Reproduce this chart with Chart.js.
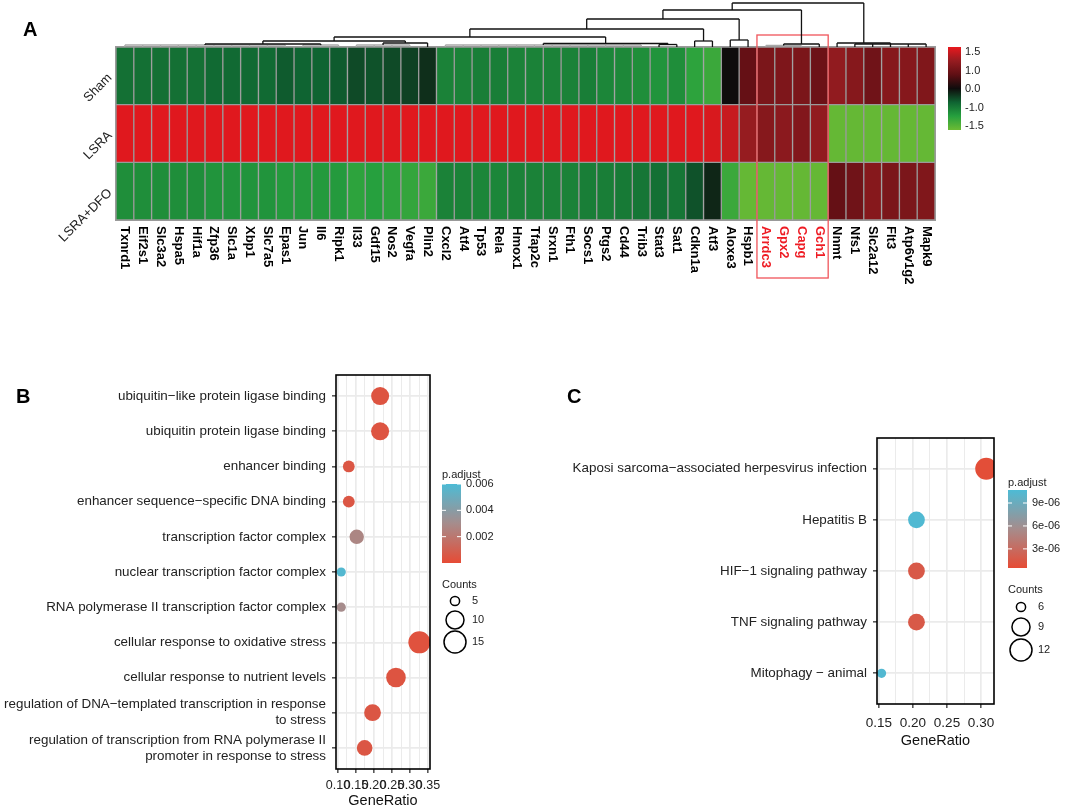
<!DOCTYPE html>
<html>
<head>
<meta charset="utf-8">
<script src="https://cdn.jsdelivr.net/npm/chart.js@4.4.1/dist/chart.umd.min.js"></script>
<style>
html, body { margin: 0; padding: 0; background: #fff; }
#wrap { position: relative; width: 1065px; height: 812px; overflow: hidden; background: #fff;
        font-family: "Liberation Sans", Arial, Helvetica, sans-serif; }
#wrap canvas { position: absolute; left: 0; top: 0; }
.tag { position: absolute; font-weight: bold; font-size: 20px; line-height: 20px; color: #000; }
</style>
</head>
<body>
<div id="wrap">
  <canvas id="heat" width="1065" height="812"></canvas>
  <canvas id="dendro" width="1065" height="812"></canvas>
  <canvas id="goChart" width="1065" height="812"></canvas>
  <canvas id="keggChart" width="1065" height="812"></canvas>
  <div class="tag" style="left:23px;top:19px">A</div>
  <div class="tag" style="left:16px;top:386px">B</div>
  <div class="tag" style="left:567px;top:386px">C</div>
</div>
<script>
// ---------- panel A: heatmap ----------
const genes = ['Txnrd1','Eif2s1','Slc3a2','Hspa5','Hif1a','Zfp36','Slc1a','Xbp1','Slc7a5','Epas1',
  'Jun','Il6','Ripk1','Il33','Gdf15','Nos2','Vegfa','Plin2','Cxcl2','Atf4',
  'Tp53','Rela','Hmox1','Tfap2c','Srxn1','Fth1','Socs1','Ptgs2','Cd44','Trib3',
  'Stat3','Sat1','Cdkn1a','Atf3','Aloxe3','Hspb1','Arrdc3','Gpx2','Capg','Gch1',
  'Nnmt','Nfs1','Slc2a12','Flt3','Atp6v1g2','Mapk9'];
const groups = ['Sham', 'LSRA', 'LSRA+DFO'];
const highlightGenes = ['Arrdc3', 'Gpx2', 'Capg', 'Gch1'];

const shamVals = [-0.6,-0.6,-0.6,-0.6,-0.6,-0.55,-0.55,-0.55,-0.55,-0.45,
  -0.5,-0.5,-0.45,-0.35,-0.4,-0.35,-0.3,-0.2,-0.75,-0.75,
  -0.72,-0.72,-0.75,-0.75,-0.75,-0.75,-0.72,-0.78,-0.8,-0.85,
  -0.9,-0.85,-1.05,-1.15,0.0,0.55,0.75,0.78,0.75,0.62,
  0.95,0.85,0.65,0.85,0.85,0.8];
const lsraVals = [1.45,1.45,1.45,1.45,1.45,1.45,1.45,1.45,1.45,1.45,
  1.45,1.45,1.45,1.45,1.45,1.45,1.45,1.45,1.45,1.45,
  1.45,1.45,1.45,1.45,1.45,1.45,1.45,1.45,1.45,1.45,
  1.45,1.45,1.45,1.4,1.3,1.0,0.85,0.9,0.82,0.95,
  -1.45,-1.45,-1.45,-1.45,-1.45,-1.45];
const dfoVals = [-0.85,-0.85,-0.85,-0.85,-0.85,-0.9,-0.9,-0.9,-0.9,-0.95,
  -0.95,-0.95,-0.95,-1.05,-1.0,-1.05,-1.1,-1.15,-0.75,-0.75,
  -0.78,-0.78,-0.75,-0.75,-0.75,-0.75,-0.72,-0.72,-0.68,-0.65,
  -0.6,-0.65,-0.4,-0.15,-1.15,-1.45,-1.45,-1.45,-1.45,-1.45,
  0.55,0.65,0.85,0.75,0.75,0.8];
const heatTickLabels = ['1.5', '1.0', '0.0', '-1.0', '-1.5'];

// column dendrogram: [height, children...], leaves are gene indices
const dendroTree = [44,
  [37,
    [28,
      [18,
        [10,
          [6, [3, [2, 0,1,2,3,4,5,6,7,8,9], [2, 10,11,12]], [4, [2, 13,14,15,16], 17]],
          [3.5, [2, 18,19,20,21,22,23,24,25,26,27,28,29], [2.5, 30,31]]],
        [6, 32, 33]],
      [7, 34, 35]],
    [3, [1.5, 36,37,38], 39]],
  [4, 40, [3, 41,42,43,44,45]]];

// ---------- panel B: GO terms ----------
const termsB = ['ubiquitin\u2212like protein ligase binding', 'ubiquitin protein ligase binding',
  'enhancer binding', 'enhancer sequence\u2212specific DNA binding', 'transcription factor complex',
  'nuclear transcription factor complex', 'RNA polymerase II transcription factor complex',
  'cellular response to oxidative stress', 'cellular response to nutrient levels',
  ['regulation of DNA\u2212templated transcription in response', 'to stress'],
  ['regulation of transcription from RNA polymerase II', 'promoter in response to stress']];
const ratioB = [0.217, 0.217, 0.130, 0.130, 0.152, 0.109, 0.109, 0.326, 0.261, 0.196, 0.174];
const countB = [10, 10, 6, 6, 7, 5, 5, 15, 12, 9, 8];
const padjB = [0.0004, 0.0004, 0.0005, 0.0005, 0.0027, 0.0058, 0.0030, 0.0003, 0.0004, 0.0005, 0.0005];
const padjTicksB = [0.002, 0.004, 0.006];
const padjTickLabelsB = ['0.002', '0.004', '0.006'];
const countKeysB = [5, 10, 15];

// ---------- panel C: KEGG pathways ----------
const termsC = ['Kaposi sarcoma\u2212associated herpesvirus infection', 'Hepatitis B',
  'HIF\u22121 signaling pathway', 'TNF signaling pathway', 'Mitophagy \u2212 animal'];
const ratioC = [0.3077, 0.2051, 0.2051, 0.2051, 0.1538];
const countC = [12, 8, 8, 8, 6];
const padjC = [0.7e-6, 10.5e-6, 1.6e-6, 1.6e-6, 10.4e-6];
const padjTicksC = [3e-6, 6e-6, 9e-6];
const padjTickLabelsC = ['3e-06', '6e-06', '9e-06'];
const countKeysC = [6, 9, 12];

// ---------- helpers ----------
const FONT = '"Liberation Sans", Arial, Helvetica, sans-serif';
const heatStops = [[-1.5,[108,187,52]], [-1.0,[38,160,62]], [-0.5,[15,100,50]], [0,[15,12,12]],
  [0.5,[95,15,20]], [1.0,[150,28,32]], [1.5,[232,24,30]]];
const padjStops = [[0,[230,75,53]], [0.5,[166,140,140]], [1,[77,187,213]]];

function interpColor(stops, v) {
  if (v <= stops[0][0]) return 'rgb(' + stops[0][1].join(',') + ')';
  for (let i = 1; i < stops.length; i++) {
    if (v <= stops[i][0]) {
      const t = (v - stops[i-1][0]) / (stops[i][0] - stops[i-1][0]);
      const c = stops[i-1][1].map((a, k) => Math.round(a + (stops[i][1][k] - a) * t));
      return 'rgb(' + c.join(',') + ')';
    }
  }
  return 'rgb(' + stops[stops.length-1][1].join(',') + ')';
}
const heatColor = v => interpColor(heatStops, v);

function interpSize(stops, c) {
  if (c <= stops[0][0]) return stops[0][1];
  for (let i = 1; i < stops.length; i++) {
    if (c <= stops[i][0]) {
      const [c0, r0] = stops[i-1], [c1, r1] = stops[i];
      return r0 + (r1 - r0) * (c - c0) / (c1 - c0);
    }
  }
  return stops[stops.length-1][1];
}
const sizeB = c => interpSize([[5,4.6],[7,7.2],[10,9],[15,11]], c);
const sizeC = c => interpSize([[6,4.6],[8,8.4],[12,11]], c);
const colorB = p => interpColor(padjStops, p / 0.006);
const padjRangeC = [0.5e-6, 10.7e-6];
const colorC = p => interpColor(padjStops, (p - padjRangeC[0]) / (padjRangeC[1] - padjRangeC[0]));

const baseOpts = {
  responsive: false, animation: false, devicePixelRatio: 1,
  plugins: { legend: { display: false }, tooltip: { enabled: false } }
};

// ---------- heatmap ----------
const heatDecor = {
  id: 'heatDecor',
  afterDraw(chart) {
    const ctx = chart.ctx, xs = chart.scales.x, ys = chart.scales.y, a = chart.chartArea;
    const half = (xs.getPixelForValue(1) - xs.getPixelForValue(0)) / 2;
    ctx.save();
    ctx.strokeStyle = '#9a9a9a';
    ctx.lineWidth = 1;
    ctx.strokeRect(a.left - 0.5, a.top - 0.5, a.right - a.left + 1, a.bottom - a.top + 1);
    // gene names, rotated
    ctx.font = 'bold 13px ' + FONT;
    ctx.textAlign = 'left';
    ctx.textBaseline = 'middle';
    genes.forEach((g, i) => {
      ctx.save();
      ctx.translate(xs.getPixelForValue(i), 226);
      ctx.rotate(Math.PI / 2);
      ctx.fillStyle = highlightGenes.includes(g) ? '#ee1c24' : '#000';
      ctx.fillText(g, 0, 0);
      ctx.restore();
    });
    // group names, 45 degrees
    ctx.font = '13px ' + FONT;
    ctx.fillStyle = '#222';
    ctx.textAlign = 'right';
    groups.forEach((g, i) => {
      ctx.save();
      ctx.translate(110, ys.getPixelForValue(2.5 - i));
      ctx.rotate(-Math.PI / 4);
      ctx.fillText(g, 0, 0);
      ctx.restore();
    });
    // red box round the highlighted cluster
    const i0 = genes.indexOf(highlightGenes[0]), i1 = genes.indexOf(highlightGenes[highlightGenes.length-1]);
    ctx.strokeStyle = '#f0545a';
    ctx.lineWidth = 1.3;
    ctx.strokeRect(xs.getPixelForValue(i0) - half, 35, xs.getPixelForValue(i1) - xs.getPixelForValue(i0) + 2 * half, 243);
    // colour key
    const cx = 948, cy = 47, cw = 13, ch = 83;
    const grad = ctx.createLinearGradient(0, cy, 0, cy + ch);
    for (let k = 0; k <= 30; k++) grad.addColorStop(k / 30, heatColor(1.5 - 3 * k / 30));
    ctx.fillStyle = grad;
    ctx.fillRect(cx, cy, cw, ch);
    ctx.font = '11px ' + FONT;
    ctx.fillStyle = '#222';
    ctx.textAlign = 'left';
    heatTickLabels.forEach((t, k) => ctx.fillText(t, cx + cw + 4, 52 + k * 18.6));
    ctx.restore();
  }
};

const heatDatasets = [[dfoVals, 'LSRA+DFO'], [lsraVals, 'LSRA'], [shamVals, 'Sham']].map(([vals, name]) => ({
  label: name,
  data: vals.map(() => 1),
  backgroundColor: vals.map(heatColor),
  borderColor: '#9a9a9a',
  borderWidth: 1,
  borderSkipped: false,
  barPercentage: 1,
  categoryPercentage: 1
}));

new Chart(document.getElementById('heat'), {
  type: 'bar',
  data: { labels: genes, datasets: heatDatasets },
  options: Object.assign({}, baseOpts, {
    layout: { padding: { left: 116, right: 130, top: 47, bottom: 592 } },
    scales: {
      x: { display: false, stacked: true },
      y: { display: false, stacked: true, min: 0, max: 3 }
    }
  }),
  plugins: [heatDecor]
});

// ---------- dendrogram ----------
function buildDendro(node, segs) {
  if (typeof node === 'number') return { x: node, h: 0 };
  const [h, ...kids] = node;
  const pts = kids.map(k => buildDendro(k, segs));
  const x1 = pts[0].x, x2 = pts[pts.length - 1].x;
  segs.push({ x: x1, y: h }, { x: x2, y: h }, { x: x2, y: null });
  pts.forEach(p => segs.push({ x: p.x, y: p.h }, { x: p.x, y: h }, { x: p.x, y: null }));
  return { x: (x1 + x2) / 2, h: h };
}
const dendroSegs = [];
buildDendro(dendroTree, dendroSegs);

new Chart(document.getElementById('dendro'), {
  type: 'scatter',
  data: { datasets: [{ data: dendroSegs, showLine: true, spanGaps: false, pointRadius: 0,
    borderColor: '#111', borderWidth: 1.3, tension: 0, clip: false,
    segment: {
      // the lowest merges sit on the heatmap edge and read as a faint grey line
      borderColor: c => Math.max(c.p0.parsed.y, c.p1.parsed.y) <= 2 ? '#a8a8a8' : '#111'
    } }] },
  options: Object.assign({}, baseOpts, {
    layout: { padding: { left: 116, right: 130, top: 2, bottom: 765 } },
    scales: {
      x: { display: false, type: 'linear', min: -0.5, max: genes.length - 0.5 },
      y: { display: false, type: 'linear', min: 0, max: 45 }
    }
  })
});

// ---------- shared dot plot bits ----------
const framePlugin = {
  id: 'frame',
  afterDatasetsDraw(chart) {
    const a = chart.chartArea, ctx = chart.ctx;
    ctx.save();
    ctx.strokeStyle = '#000';
    ctx.lineWidth = 1.6;
    ctx.strokeRect(a.left, a.top, a.right - a.left, a.bottom - a.top);
    ctx.restore();
  }
};

function drawKeys(ctx, k) {
  ctx.save();
  ctx.font = '11px ' + FONT;
  ctx.fillStyle = '#222';
  ctx.textBaseline = 'middle';
  ctx.textAlign = 'left';
  ctx.fillText('p.adjust', k.x, k.titleY);
  const grad = ctx.createLinearGradient(0, k.barY + k.barH, 0, k.barY);
  for (let s = 0; s <= 20; s++) grad.addColorStop(s / 20, k.color(k.range[0] + (k.range[1] - k.range[0]) * s / 20));
  ctx.fillStyle = grad;
  ctx.fillRect(k.x, k.barY, k.barW, k.barH);
  k.ticks.forEach((v, i) => {
    const y = k.barY + k.barH - (v - k.range[0]) / (k.range[1] - k.range[0]) * k.barH;
    ctx.strokeStyle = '#fff';
    ctx.lineWidth = 1;
    ctx.beginPath();
    ctx.moveTo(k.x, y); ctx.lineTo(k.x + 4, y);
    ctx.moveTo(k.x + k.barW - 4, y); ctx.lineTo(k.x + k.barW, y);
    ctx.stroke();
    ctx.fillStyle = '#222';
    ctx.fillText(k.tickLabels[i], k.x + k.barW + 5, y);
  });
  ctx.fillText('Counts', k.x, k.countTitleY);
  k.counts.forEach((c, i) => {
    ctx.beginPath();
    ctx.strokeStyle = '#000';
    ctx.lineWidth = 1.5;
    ctx.arc(k.circleX, k.countY[i], k.size(c), 0, 2 * Math.PI);
    ctx.stroke();
    ctx.fillStyle = '#222';
    ctx.fillText(String(c), k.circleX + 17, k.countY[i]);
  });
  ctx.restore();
}

function isMajor(v) { return Math.abs(v * 20 - Math.round(v * 20)) < 1e-6; }

function dotChart(id, terms, ratios, counts, padj, color, size, o) {
  return new Chart(document.getElementById(id), {
    type: 'bubble',
    data: { datasets: [{
      data: terms.map((t, i) => ({ x: ratios[i], y: i + 1, r: size(counts[i]) })),
      backgroundColor: padj.map(color),
      borderWidth: 0,
      clip: 0
    }] },
    options: Object.assign({}, baseOpts, {
      layout: { padding: o.padding },
      scales: {
        x: {
          type: 'linear', min: o.xmin, max: o.xmax,
          afterBuildTicks: s => {
            const t = [];
            for (let k = 0; ; k++) {
              const v = Math.round((o.xstart + k * 0.025) * 1000) / 1000;
              if (v > o.xmax) break;
              t.push({ value: v });
            }
            s.ticks = t;
          },
          afterFit: s => { s.height = o.xAxisH; },
          border: { display: false },
          grid: {
            color: '#ebebeb',
            lineWidth: c => (c.tick && isMajor(c.tick.value)) ? 1.7 : 1,
            tickColor: c => (c.tick && isMajor(c.tick.value)) ? '#222' : 'rgba(0,0,0,0)',
            tickLength: 4, tickWidth: 1.2
          },
          ticks: {
            autoSkip: false, maxRotation: 0, minRotation: 0, padding: o.tickPad,
            color: '#222', font: { family: FONT, size: o.tickSize },
            callback: v => isMajor(v) ? v.toFixed(2) : ''
          },
          title: { display: true, text: 'GeneRatio', color: '#111',
            font: { family: FONT, size: 14.5 }, padding: { top: 0, bottom: o.titlePad } }
        },
        y: {
          type: 'linear', reverse: true, min: 0.4, max: terms.length + 0.6,
          afterBuildTicks: s => { s.ticks = terms.map((t, i) => ({ value: i + 1 })); },
          afterFit: s => { s.width = o.yAxisW; },
          border: { display: false },
          grid: { color: '#ebebeb', lineWidth: 1.7, tickColor: '#222', tickLength: 4, tickWidth: 1.2 },
          ticks: {
            autoSkip: false, padding: 6, color: '#222',
            font: { family: FONT, size: o.labelSize },
            callback: v => terms[Math.round(v) - 1]
          }
        }
      }
    }),
    plugins: [framePlugin, { id: 'keys', afterDraw: ch => drawKeys(ch.ctx, o.keys) }]
  });
}

dotChart('goChart', termsB, ratioB, countB, padjB, colorB, sizeB, {
  padding: { left: 0, top: 375, right: 635, bottom: 0 },
  xmin: 0.0945, xmax: 0.3555, xstart: 0.1, xAxisH: 43, tickPad: 5, tickSize: 12.5, titlePad: 2,
  yAxisW: 336, labelSize: 13.4,
  keys: { x: 442, titleY: 475, barY: 484, barW: 19, barH: 79, range: [0, 0.006], color: colorB,
    ticks: padjTicksB, tickLabels: padjTickLabelsB, countTitleY: 585, counts: countKeysB,
    circleX: 455, countY: [601, 620, 642], size: sizeB }
});

dotChart('keggChart', termsC, ratioC, countC, padjC, colorC, sizeC, {
  padding: { left: 0, top: 438, right: 71, bottom: 60 },
  xmin: 0.1471, xmax: 0.3191, xstart: 0.15, xAxisH: 48, tickPad: 7, tickSize: 13.5, titlePad: 2,
  yAxisW: 877, labelSize: 13.4,
  keys: { x: 1008, titleY: 483, barY: 490, barW: 19, barH: 78, range: padjRangeC, color: colorC,
    ticks: padjTicksC, tickLabels: padjTickLabelsC, countTitleY: 590, counts: countKeysC,
    circleX: 1021, countY: [607, 627, 650], size: sizeC }
});
</script>
</body>
</html>
